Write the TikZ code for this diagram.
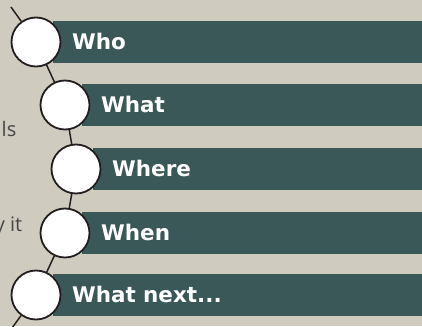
\documentclass[tikz,border=0pt]{standalone}
\usepackage{fontspec}
\setmainfont{Open Sans}
\newfontfamily\labelfont{DejaVu Sans}
\usepackage{tikz}
\usetikzlibrary{backgrounds}

\definecolor{paper}{RGB}{207,203,190}
\definecolor{slate}{RGB}{58,88,87}
\definecolor{ink}{RGB}{35,31,32}
\definecolor{note}{RGB}{70,70,70}

\begin{document}
\begin{tikzpicture}[x=1pt,y=-1pt,
    disc/.style={circle,draw=ink,fill=white,line width=1.8pt,minimum size=49pt,inner sep=0pt},
    bar/.style={fill=slate,anchor=west,minimum height=42pt,text width=380pt,inner xsep=19pt,inner ysep=0pt,
      text height=15.5pt,text depth=0pt,align=left,text=white,font=\labelfont\bfseries\fontsize{21.5}{21.5}\selectfont},
    aside/.style={anchor=base east,inner sep=0pt,text=note,font=\fontsize{20}{24}\selectfont}]
       \useasboundingbox (0,0) rectangle (422,326);

       \node[disc] (who) at (36,42) {};
       \node[disc] (what) at (65,105) {};
       \node[disc] (where) at (76,169) {};
       \node[disc] (when) at (65,233) {};
       \node[disc] (next) at (36,295) {};
       \coordinate (top) at (11,7);
       \coordinate (bottom) at (12,328);

       \begin{scope}[on background layer]
       \clip (0,0) rectangle (422,326);
       \fill[paper] (0,0) rectangle (422,326);
       \node[aside] (tools) at (16.5,136) {ls};
       \node[aside] (way) at (22.5,231.5) {y it};

       \node[bar] (whobar) at ([xshift=17pt]who.center) {Who};
       \node[bar] (whatbar) at ([xshift=17pt]what.center) {What};
       \node[bar] (wherebar) at ([xshift=17pt]where.center) {Where};
       \node[bar] (whenbar) at ([xshift=17pt]when.center) {When};
       \node[bar] (nextbar) at ([xshift=17pt]next.center) {What next...};

       \draw[ink,line width=1.5pt]
       (top) -- (who) -- (what) -- (where) -- (when) -- (next) -- (bottom);
       \end{scope}
    \end{tikzpicture}
\end{document}
